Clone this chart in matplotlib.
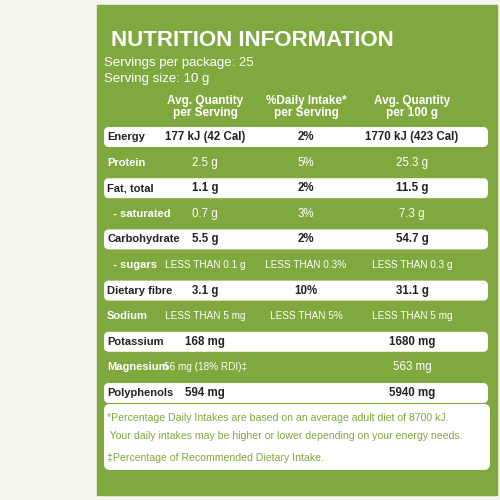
import matplotlib.pyplot as plt
from matplotlib.patches import FancyBboxPatch, Rectangle

plt.rcParams['font.family'] = ['Liberation Sans', 'DejaVu Sans']

GREEN = '#7fa83e'

nutrients = ['Energy', 'Protein', 'Fat, total', '  - saturated', 'Carbohydrate', '  - sugars',
             'Dietary fibre', 'Sodium', 'Potassium', 'Magnesium', 'Polyphenols']
per_serving = ['177 kJ (42 Cal)', '2.5 g', '1.1 g', '0.7 g', '5.5 g', 'LESS THAN 0.1 g',
               '3.1 g', 'LESS THAN 5 mg', '168 mg', '56 mg (18% RDI)\u2021', '594 mg']
daily_intake = ['2%', '5%', '2%', '3%', '2%', 'LESS THAN 0.3%', '10%', 'LESS THAN 5%', '', '', '']
per_100g = ['1770 kJ (423 Cal)', '25.3 g', '11.5 g', '7.3 g', '54.7 g', 'LESS THAN 0.3 g',
            '31.1 g', 'LESS THAN 5 mg', '1680 mg', '563 mg', '5940 mg']
highlighted = [True, False, True, False, True, False, True, False, True, False, True]
headers = ['Avg. Quantity\nper Serving', '%Daily Intake*\nper Serving', 'Avg. Quantity\nper 100 g']
footnotes = ['*Percentage Daily Intakes are based on an average adult diet of 8700 kJ.',
             ' Your daily intakes may be higher or lower depending on your energy needs.',
             '\u2021Percentage of Recommended Dietary Intake.']

fig = plt.figure(figsize=(5, 5), dpi=100)
ax = fig.add_axes([0, 0, 1, 1])
ax.set_xlim(0, 500)
ax.set_ylim(500, 0)
ax.axis('off')
fig.patch.set_facecolor('#f4f6ee')

ax.add_patch(Rectangle((97, 5), 400, 490, color=GREEN))
ax.text(252, 40, 'NUTRITION INFORMATION', color='white', fontsize=16, fontweight='bold',
        ha='center', va='center')
ax.text(104, 63, 'Servings per package: 25', color='white', fontsize=9.5, va='center')
ax.text(104, 79, 'Serving size: 10 g', color='white', fontsize=9.5, va='center')

cols = [205, 306, 412]
for x, h in zip(cols, headers):
    ax.text(x, 107, h, color='white', fontsize=8.5, fontweight='bold', ha='center',
            va='center', linespacing=1.1)

y0, dy = 137, 25.6
for i, name in enumerate(nutrients):
    y = y0 + i * dy
    hl = highlighted[i]
    if hl:
        ax.add_patch(FancyBboxPatch((104, y - 10), 384, 20, boxstyle='round,pad=0,rounding_size=5',
                                    fc='white', ec='none'))
    tc = '#222222' if hl else 'white'
    fw = 'bold' if hl else 'normal'
    ax.text(107, y, name, color=tc, fontsize=8, fontweight='bold', va='center')
    for x, v in zip(cols, [per_serving[i], daily_intake[i], per_100g[i]]):
        fs = 7.2 if v.startswith('LESS') or 'RDI' in v else 8.3
        ax.text(x, y, v, color=tc, fontsize=fs, fontweight=fw, ha='center', va='center')

ax.add_patch(FancyBboxPatch((104, 404), 386, 66, boxstyle='round,pad=0,rounding_size=6',
                            fc='white', ec='none'))
for j, t in enumerate(footnotes):
    ax.text(107, [418, 436, 458][j], t, color=GREEN, fontsize=7.6, va='center')

fig.savefig('out.png', dpi=100)
